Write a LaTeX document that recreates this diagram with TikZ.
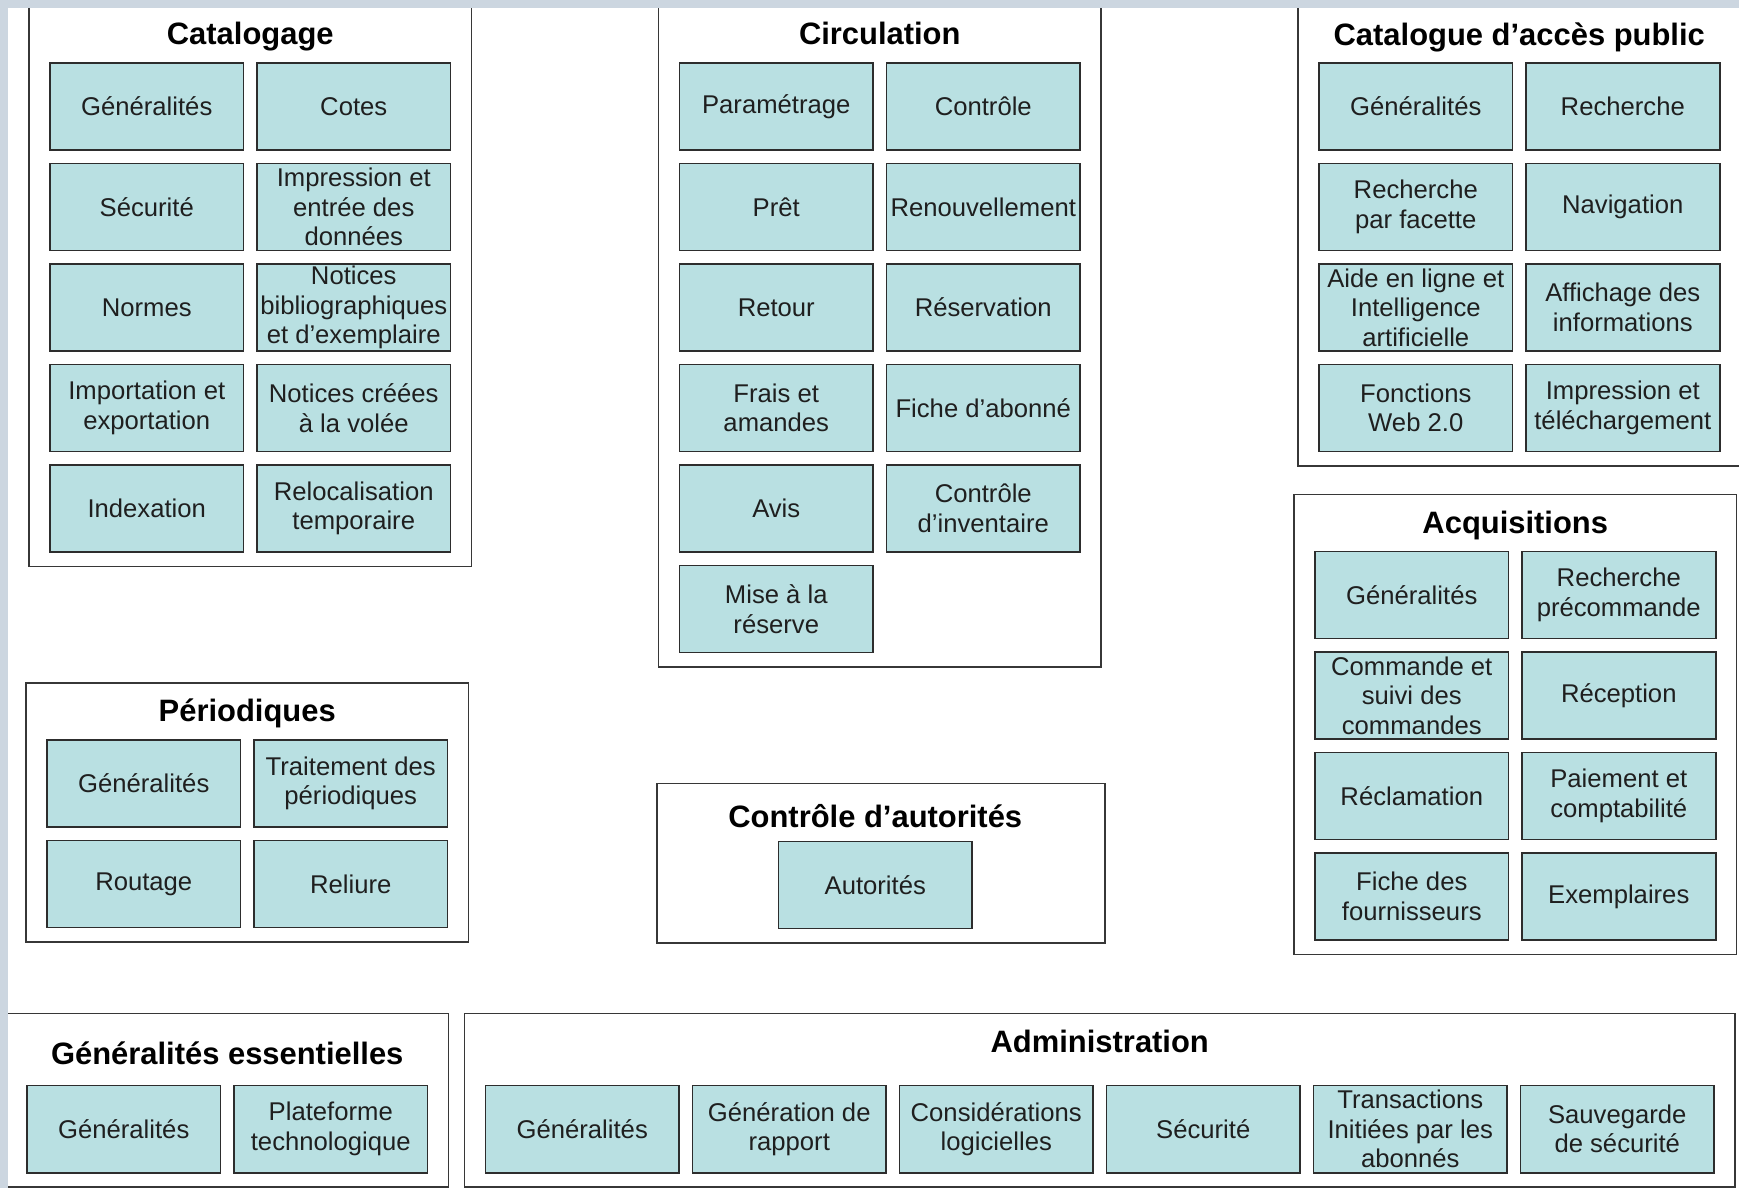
\documentclass[tikz,border=0pt]{standalone}
\usepackage{fontspec}
\setmainfont{Liberation Sans}
\usepackage{tikz}
\usetikzlibrary{positioning}
\usetikzlibrary{fit}
\usetikzlibrary{calc}
\definecolor{boxfill}{RGB}{185,224,226}
\definecolor{boxline}{RGB}{45,45,45}
\definecolor{frameline}{RGB}{55,55,55}
\definecolor{edgegray}{RGB}{204,214,224}

\begin{document}
\begin{tikzpicture}[node distance=0.135cm,
                    mod/.style={rectangle,draw=boxline,fill=boxfill,line width=0.55pt,
                                minimum width=1.935cm,minimum height=0.87cm,inner sep=0pt,outer sep=0pt,
                                align=center,text=black!88,font=\fontsize{7.3}{8.4}\selectfont},
                    grp/.style={rectangle,draw=frameline,line width=0.5pt,inner xsep=0.21cm,inner ysep=0.145cm},
                    ttl/.style={inner sep=0pt,outer sep=0pt,text height=7pt,text depth=2pt,font=\bfseries\fontsize{8.8}{10}\selectfont}
                    ]
\useasboundingbox (0,0) rectangle (17.39,-11.88);
\fill[edgegray] (0,0) rectangle (17.39,-11.88);
\fill[white] (0.08,-0.08) rectangle (17.39,-11.88);
\clip (0.08,-0.08) rectangle (17.39,-11.88);

% Catalogage
\node[mod] (cat1) at (0.50,-0.63) [anchor=north west] {Généralités};
\node[mod] (cat2) [right=of cat1] {Cotes};
\node[mod] (cat3) [below=of cat1] {Sécurité};
\node[mod] (cat4) [right=of cat3] {Impression et\\entrée des\\données};
\node[mod] (cat5) [below=of cat3] {Normes};
\node[mod] (cat6) [right=of cat5] {Notices\\bibliographiques\\et d’exemplaire};
\node[mod] (cat7) [below=of cat5] {Importation et\\exportation};
\node[mod] (cat8) [right=of cat7] {Notices créées\\à la volée};
\node[mod] (cat9) [below=of cat7] {Indexation};
\node[mod] (cat10) [right=of cat9] {Relocalisation\\temporaire};
\node[ttl] (tCat) at ($(cat1.north)!0.5!(cat2.north)$) [above=0.11cm] {Catalogage};
\node[grp,fit=(tCat) (cat1) (cat10)] (fCat) {};

% Circulation
\node[mod] (cir1) [right=2.29cm of cat2] {Paramétrage};
\node[mod] (cir2) [right=of cir1] {Contrôle};
\node[mod] (cir3) [below=of cir1] {Prêt};
\node[mod] (cir4) [right=of cir3] {Renouvellement};
\node[mod] (cir5) [below=of cir3] {Retour};
\node[mod] (cir6) [right=of cir5] {Réservation};
\node[mod] (cir7) [below=of cir5] {Frais et\\amandes};
\node[mod] (cir8) [right=of cir7] {Fiche d’abonné};
\node[mod] (cir9) [below=of cir7] {Avis};
\node[mod] (cir10) [right=of cir9] {Contrôle\\d’inventaire};
\node[mod] (cir11) [below=of cir9] {Mise à la\\réserve};
\node[ttl] (tCir) at ($(cir1.north)!0.5!(cir2.north)$) [above=0.11cm] {Circulation};
\node[grp,fit=(tCir) (cir1) (cir10) (cir11)] (fCir) {};

% Catalogue d'acces public
\node[mod] (opac1) [right=2.39cm of cir2] {Généralités};
\node[mod] (opac2) [right=of opac1] {Recherche};
\node[mod] (opac3) [below=of opac1] {Recherche\\par facette};
\node[mod] (opac4) [right=of opac3] {Navigation};
\node[mod] (opac5) [below=of opac3] {Aide en ligne et\\Intelligence\\artificielle};
\node[mod] (opac6) [right=of opac5] {Affichage des\\informations};
\node[mod] (opac7) [below=of opac5] {Fonctions\\Web 2.0};
\node[mod] (opac8) [right=of opac7] {Impression et\\téléchargement};
\node[ttl] (tOpac) at ($(opac1.north)!0.5!(opac2.north)$) [above=0.10cm] {Catalogue d’accès public};
\node[grp,fit=(tOpac) (opac1) (opac8)] (fOpac) {};

% Acquisitions
\node[mod] (acq1) [below=1.0cm of opac7,xshift=-0.04cm] {Généralités};
\node[mod] (acq2) [right=of acq1] {Recherche\\précommande};
\node[mod] (acq3) [below=of acq1] {Commande et\\suivi des\\commandes};
\node[mod] (acq4) [right=of acq3] {Réception};
\node[mod] (acq5) [below=of acq3] {Réclamation};
\node[mod] (acq6) [right=of acq5] {Paiement et\\comptabilité};
\node[mod] (acq7) [below=of acq5] {Fiche des\\fournisseurs};
\node[mod] (acq8) [right=of acq7] {Exemplaires};
\node[ttl] (tAcq) at ($(acq1.north)!0.5!(acq2.north)$) [above=0.11cm] {Acquisitions};
\node[grp,fit=(tAcq) (acq1) (acq8)] (fAcq) {};

% Periodiques
\node[mod] (per1) [below=1.88cm of cat9,xshift=-0.03cm] {Généralités};
\node[mod] (per2) [right=of per1] {Traitement des\\périodiques};
\node[mod] (per3) [below=of per1] {Routage};
\node[mod] (per4) [right=of per3] {Reliure};
\node[ttl] (tPer) at ($(per1.north)!0.5!(per2.north)$) [above=0.11cm] {Périodiques};
\node[grp,fit=(tPer) (per1) (per4)] (fPer) {};

% Controle d'autorites
\node[mod] (aut1) [below=1.89cm of cir11,xshift=0.99cm] {Autorités};
\node[ttl,text height=8.4pt] (tAut) [above=0.07cm of aut1] {Contrôle d’autorités};
\node[grp,fit=(tAut) (aut1),minimum width=4.48cm,xshift=0.06cm] (fAut) {};

% Generalites essentielles
\node[mod] (gen1) [below=1.58cm of per3,xshift=-0.2cm] {Généralités};
\node[mod] (gen2) [right=of gen1] {Plateforme\\technologique};
\node[ttl,text height=10.4pt] (tGen) at ($(gen1.north)!0.5!(gen2.north)$) [above=0.14cm] {Généralités essentielles};
\node[grp,fit=(tGen) (gen1) (gen2)] (fGen) {};

% Administration
\node[mod] (adm1) [right=0.58cm of gen2] {Généralités};
\node[mod] (adm2) [right=of adm1] {Génération de\\rapport};
\node[mod] (adm3) [right=of adm2] {Considérations\\logicielles};
\node[mod] (adm4) [right=of adm3] {Sécurité};
\node[mod] (adm5) [right=of adm4] {Transactions\\Initiées par les\\abonnés};
\node[mod] (adm6) [right=of adm5] {Sauvegarde\\de sécurité};
\node[ttl] (tAdm) at ($(adm3.north)!0.5!(adm4.north)$) [above=0.26cm] {Administration};
\node[grp,fit=(tAdm) (adm1) (adm6)] (fAdm) {};
\end{tikzpicture}
\end{document}
